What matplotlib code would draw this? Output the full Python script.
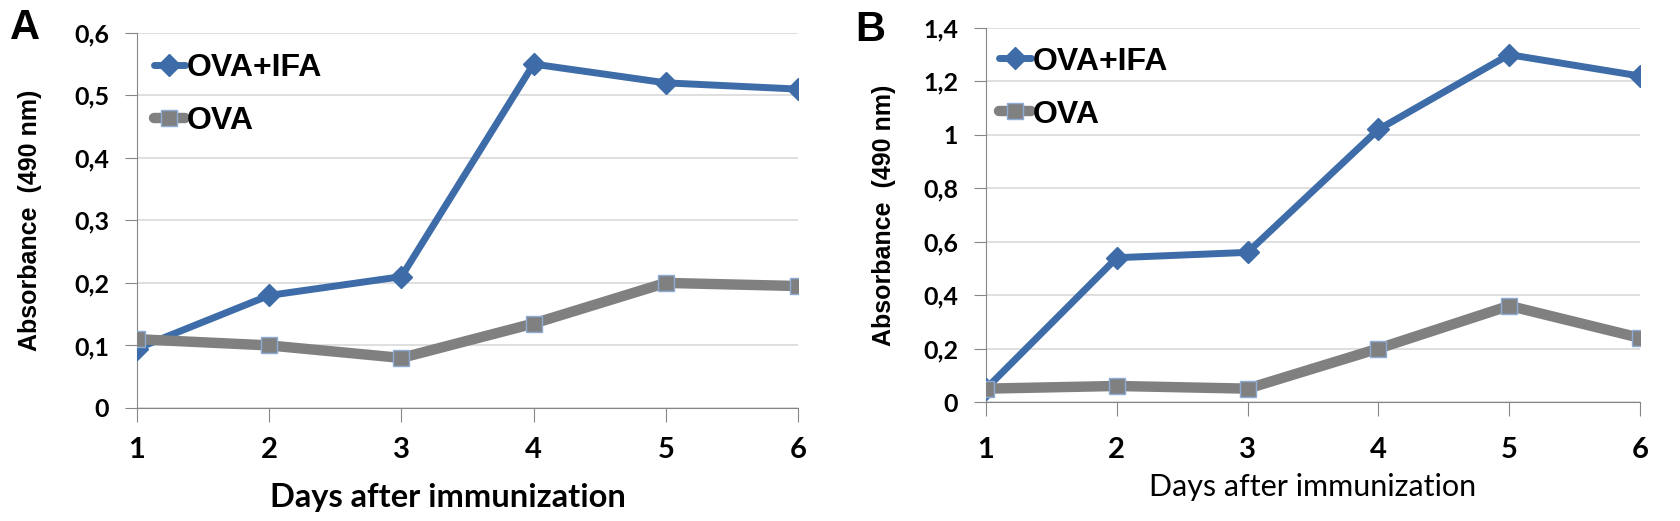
import matplotlib.pyplot as plt
from matplotlib.ticker import FixedLocator, FuncFormatter

days = [1, 2, 3, 4, 5, 6]

# panel A
a_ova_ifa = [0.095, 0.18, 0.21, 0.55, 0.52, 0.51]
a_ova = [0.11, 0.10, 0.08, 0.135, 0.20, 0.195]
a_yticks = [0, 0.1, 0.2, 0.3, 0.4, 0.5, 0.6]

# panel B
b_ova_ifa = [0.05, 0.54, 0.56, 1.02, 1.30, 1.22]
b_ova = [0.05, 0.06, 0.05, 0.20, 0.36, 0.24]
b_yticks = [0, 0.2, 0.4, 0.6, 0.8, 1.0, 1.2, 1.4]

BLUE = '#3d6ca8'
GREY = '#808080'
EDGE = '#8eaad6'
TICKFONT = ['Lato', 'DejaVu Sans']
TEXTFONT = ['Liberation Sans', 'DejaVu Sans']


def comma(v, pos):
    s = ('%.1f' % v).rstrip('0').rstrip('.')
    return s.replace('.', ',')


def setup_ax(fig, rect, yticks, ylab_x, xlab_bold, xpad, xlab_size):
    ax = fig.add_axes(rect)
    for s in ['top', 'right']:
        ax.spines[s].set_visible(False)
    ax.spines['left'].set_color('#868686')
    ax.spines['bottom'].set_color('#868686')
    ax.set_xlim(1, 6)
    ax.set_ylim(yticks[0], yticks[-1])
    ax.xaxis.set_major_locator(FixedLocator(days))
    ax.yaxis.set_major_locator(FixedLocator(yticks))
    ax.yaxis.set_major_formatter(FuncFormatter(comma))
    ax.grid(axis='y', color='#d9d9d9', linewidth=1.2)
    ax.set_axisbelow(True)
    ax.tick_params(axis='y', length=9, color='#868686', pad=11)
    ax.tick_params(axis='x', length=10, color='#868686', pad=xpad)
    for t in ax.get_yticklabels():
        t.set_fontfamily(TICKFONT)
        t.set_fontweight('bold')
        t.set_fontsize(18)
    for t in ax.get_xticklabels():
        t.set_fontfamily(TICKFONT)
        t.set_fontweight('bold')
        t.set_fontsize(21)
    ax.set_ylabel('Absorbance  (490 nm)', family=TEXTFONT, fontweight='bold', fontsize=18)
    ax.yaxis.set_label_coords(ylab_x, 0.5)
    ax.set_xlabel('Days after immunization', family=TICKFONT,
                  fontweight='bold' if xlab_bold else 'normal', fontsize=xlab_size)
    return ax


def draw(ax, ova_ifa, ova, anchor):
    ax.plot(days, ova_ifa, color=BLUE, linewidth=5, marker='D', markersize=11,
            markerfacecolor=BLUE, markeredgecolor=BLUE, label='OVA+IFA',
            solid_capstyle='round', zorder=3)
    ax.plot(days, ova, color=GREY, linewidth=7.5, marker='s', markersize=11,
            markerfacecolor=GREY, markeredgecolor=EDGE, markeredgewidth=1,
            label='OVA', solid_capstyle='round', zorder=3)
    ax.legend(loc='upper left', bbox_to_anchor=anchor, frameon=False,
              borderaxespad=0, borderpad=0, handlelength=1.0, handletextpad=0.05,
              labelspacing=0.72, prop={'family': TEXTFONT, 'weight': 'bold', 'size': 23})


fig = plt.figure(figsize=(16.81, 5.21), dpi=100)

ax1 = setup_ax(fig, [0.0815, 0.217, 0.3932, 0.720], a_yticks, -0.144, True, 11, 23.5)
draw(ax1, a_ova_ifa, a_ova, (0.025, 0.945))
ax1.xaxis.set_label_coords(0.47, -0.2)

ax2 = setup_ax(fig, [0.5866, 0.2284, 0.389, 0.718], b_yticks, -0.138, False, 15, 22)
draw(ax2, b_ova_ifa, b_ova, (0.02, 0.95))
ax2.xaxis.set_label_coords(0.5, -0.19)

fig.text(25 / 1681, 1 - 28 / 521, 'A', family=TEXTFONT, fontweight='bold',
         fontsize=30, ha='center', va='center')
fig.text(870 / 1681, 1 - 30 / 521, 'B', family=TEXTFONT, fontweight='bold',
         fontsize=30, ha='center', va='center')

fig.savefig('out.png', dpi=100)
